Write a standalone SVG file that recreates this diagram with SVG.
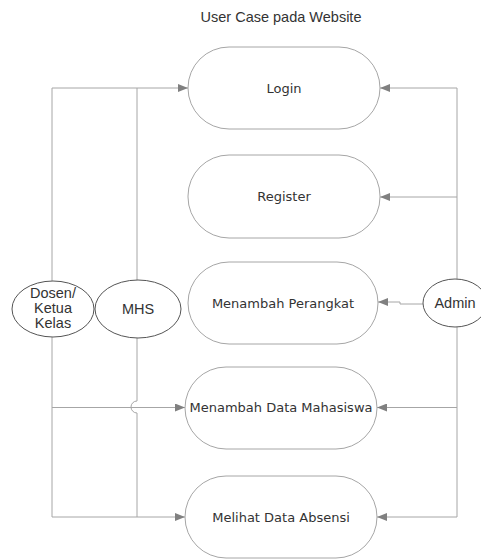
<svg xmlns="http://www.w3.org/2000/svg" width="481" height="560" viewBox="0 0 481 560">
<style>
.uc{fill:#fff;stroke:#a6a6a6;stroke-width:1}
.act{fill:#fff;stroke:#555;stroke-width:1}
.ln{fill:none;stroke:#a6a6a6;stroke-width:1}
.t1{font-family:"DejaVu Sans",sans-serif;font-size:13px;fill:#333;text-anchor:middle}
.t2{font-family:"Liberation Sans",Arial,sans-serif;font-size:14.5px;fill:#333;text-anchor:middle}
.title{font-family:"Liberation Sans",Arial,sans-serif;font-size:14.5px;fill:#333;text-anchor:middle}
</style>
<defs>
<marker id="arr" markerWidth="10" markerHeight="8" refX="10" refY="4" orient="auto" markerUnits="userSpaceOnUse">
<path d="M0,0 L10,4 L0,8 Z" fill="#808080"/>
</marker>
</defs>
<rect width="481" height="560" fill="#fff"/>
<text class="title" x="281" y="22">User Case pada Website</text>
<g id="connectors">
<path class="ln" d="M52,281 V88 H188" marker-end="url(#arr)"/>
<path class="ln" d="M137,281 V88"/>
<path class="ln" d="M52,337 V517 H185" marker-end="url(#arr)"/>
<path class="ln" d="M137,338 V401 A6,6 0 0 0 137,413 V517"/>
<path class="ln" d="M52,407.5 H185" marker-end="url(#arr)"/>
<path class="ln" d="M457,280 V88 H380" marker-end="url(#arr)"/>
<path class="ln" d="M457,197 H380" marker-end="url(#arr)"/>
<path class="ln" d="M423,304 H400 V302 H378" marker-end="url(#arr)"/>
<path class="ln" d="M457,327 V517 H377" marker-end="url(#arr)"/>
<path class="ln" d="M457,407.5 H377" marker-end="url(#arr)"/>
</g>
<g id="login"><rect class="uc" x="188" y="47" width="192" height="82" rx="41"/><text class="t1" x="284" y="93">Login</text></g>
<g id="register"><rect class="uc" x="188" y="155" width="192" height="83" rx="41"/><text class="t1" x="284" y="201">Register</text></g>
<g id="perangkat"><rect class="uc" x="188" y="262" width="190" height="82" rx="41"/><text class="t1" x="283" y="308">Menambah Perangkat</text></g>
<g id="mahasiswa"><rect class="uc" x="185" y="367" width="192" height="82" rx="41"/><text class="t1" x="281" y="412">Menambah Data Mahasiswa</text></g>
<g id="absensi"><rect class="uc" x="185" y="476" width="192" height="82" rx="41"/><text class="t1" x="281" y="522">Melihat Data Absensi</text></g>
<g id="dosen"><ellipse class="act" cx="53" cy="309" rx="41" ry="28"/><text class="t2" x="53" y="298">Dosen/</text><text class="t2" x="53" y="313">Ketua</text><text class="t2" x="53" y="328">Kelas</text></g>
<g id="mhs"><ellipse class="act" cx="138" cy="309" rx="43" ry="29"/><text class="t2" x="138" y="314">MHS</text></g>
<g id="admin"><ellipse class="act" cx="455" cy="303" rx="32" ry="24"/><text class="t2" x="455" y="308">Admin</text></g>
</svg>
